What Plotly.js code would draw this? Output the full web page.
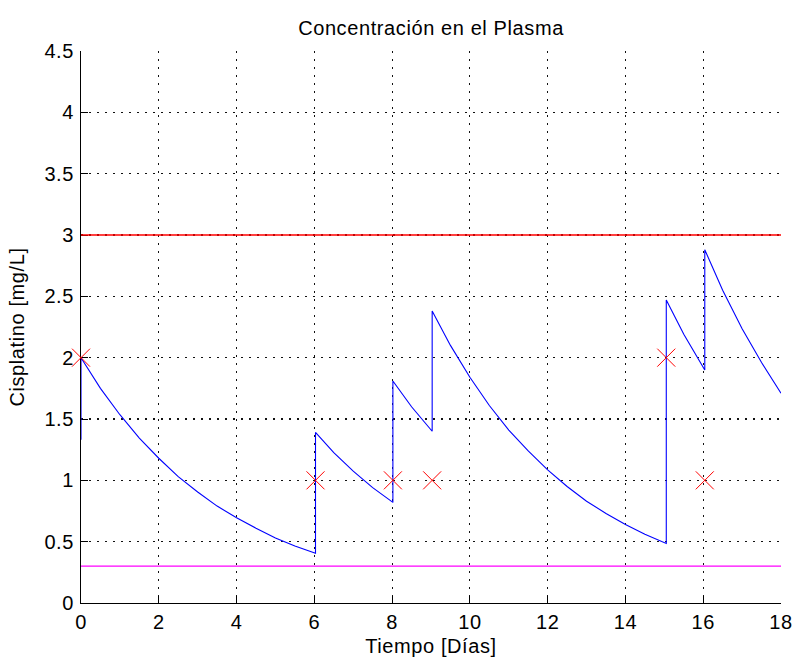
<!DOCTYPE html>
<html>
<head>
<meta charset="utf-8">
<script src="https://cdn.plot.ly/plotly-3.0.1.min.js"></script>
<style>
  html, body { margin: 0; padding: 0; background: #fff; }
  #chart { width: 793px; height: 660px; }
  text { letter-spacing: 0.6px; }
</style>
</head>
<body>
<div id="chart"></div>
<script>
// Plasma concentration of cisplatin over time (days)
const tiempo = [0, 0, 0.5, 1, 1.5, 2, 2.5, 3, 3.5, 4, 4.5, 5, 5.5, 6.03,
  6.03, 6.5, 7, 7.5, 8.02,
  8.02, 8.5, 9.03,
  9.03, 9.5, 10, 10.5, 11, 11.5, 12, 12.5, 13, 13.5, 14, 14.5, 15.05,
  15.05, 15.5, 16.04,
  16.04, 16.5, 17, 17.5, 18];
const concentracion = [1.33, 2.00, 1.75, 1.535, 1.345, 1.18, 1.03, 0.905, 0.79, 0.695, 0.61, 0.53, 0.465, 0.405,
  1.39, 1.225, 1.075, 0.94, 0.82,
  1.81, 1.60, 1.40,
  2.38, 2.10, 1.84, 1.61, 1.41, 1.24, 1.085, 0.95, 0.83, 0.73, 0.64, 0.56, 0.485,
  2.47, 2.19, 1.90,
  2.88, 2.55, 2.235, 1.96, 1.71];

// Dose times and dose amounts (red crosses)
const dosisTiempo = [0, 6.03, 8.02, 9.03, 15.05, 16.04];
const dosisValor = [2, 1, 1, 1, 2, 1];

// Limit lines
const limiteX = [0, 18];
const limiteSuperior = [3, 3];
const limiteInferior = [0.3, 0.3];

const xTicks = [0, 2, 4, 6, 8, 10, 12, 14, 16, 18];
const yTicks = [0, 0.5, 1, 1.5, 2, 2.5, 3, 3.5, 4, 4.5];
const yTickText = ['0', '0.5', '1', '1.5', '2', '2.5', '3', '3.5', '4', '4.5'];

const FONT = 'Liberation Sans, Arial, Helvetica, sans-serif';
const FS = 20;

const traces = [
  {
    x: limiteX, y: limiteSuperior, type: 'scatter', mode: 'lines',
    line: { color: '#ff0000', width: 1.3 }, hoverinfo: 'skip'
  },
  {
    x: limiteX, y: limiteInferior, type: 'scatter', mode: 'lines',
    line: { color: '#ff00ff', width: 1.3 }, hoverinfo: 'skip'
  },
  {
    x: tiempo, y: concentracion, type: 'scatter', mode: 'lines',
    line: { color: '#0000ff', width: 1.1 }
  },
  {
    x: dosisTiempo, y: dosisValor, type: 'scatter', mode: 'markers',
    cliponaxis: false,
    marker: { symbol: 'x-thin-open', size: 18, color: '#ff0000', line: { color: '#ff0000', width: 1 } }
  }
];

const axisCommon = {
  showline: true, linecolor: '#000', linewidth: 1,
  mirror: false,
  ticks: 'inside', ticklen: 7, tickcolor: '#000', tickwidth: 1,
  showgrid: true, gridcolor: '#111', gridwidth: 1.2, griddash: '1.6px,6.4px',
  zeroline: false,
  layer: 'below traces',
  tickfont: { family: FONT, size: FS, color: '#000' },
  fixedrange: true
};

const layout = {
  width: 793, height: 660,
  margin: { l: 81, r: 12, t: 51, b: 57, pad: 0 },
  paper_bgcolor: '#fff', plot_bgcolor: '#fff',
  showlegend: false,
  font: { family: FONT, color: '#000' },
  title: {
    text: 'Concentración en el Plasma',
    font: { family: FONT, size: FS, color: '#000' },
    xref: 'paper', x: 0.5, xanchor: 'center',
    yref: 'container', y: 0.957, yanchor: 'middle'
  },
  xaxis: Object.assign({}, axisCommon, {
    range: [0, 18], tickmode: 'array', tickvals: xTicks,
    ticklabelstandoff: 1,
    title: { text: 'Tiempo [Días]', font: { family: FONT, size: FS, color: '#000' }, standoff: 6 }
  }),
  yaxis: Object.assign({}, axisCommon, {
    range: [0, 4.5], tickmode: 'array', tickvals: yTicks, ticktext: yTickText,
    ticklabelstandoff: 2,
    title: { text: 'Cisplatino [mg/L]', font: { family: FONT, size: FS, color: '#000' }, standoff: 14 }
  })
};

Plotly.newPlot('chart', traces, layout, { displayModeBar: false, staticPlot: true });
</script>
</body>
</html>
